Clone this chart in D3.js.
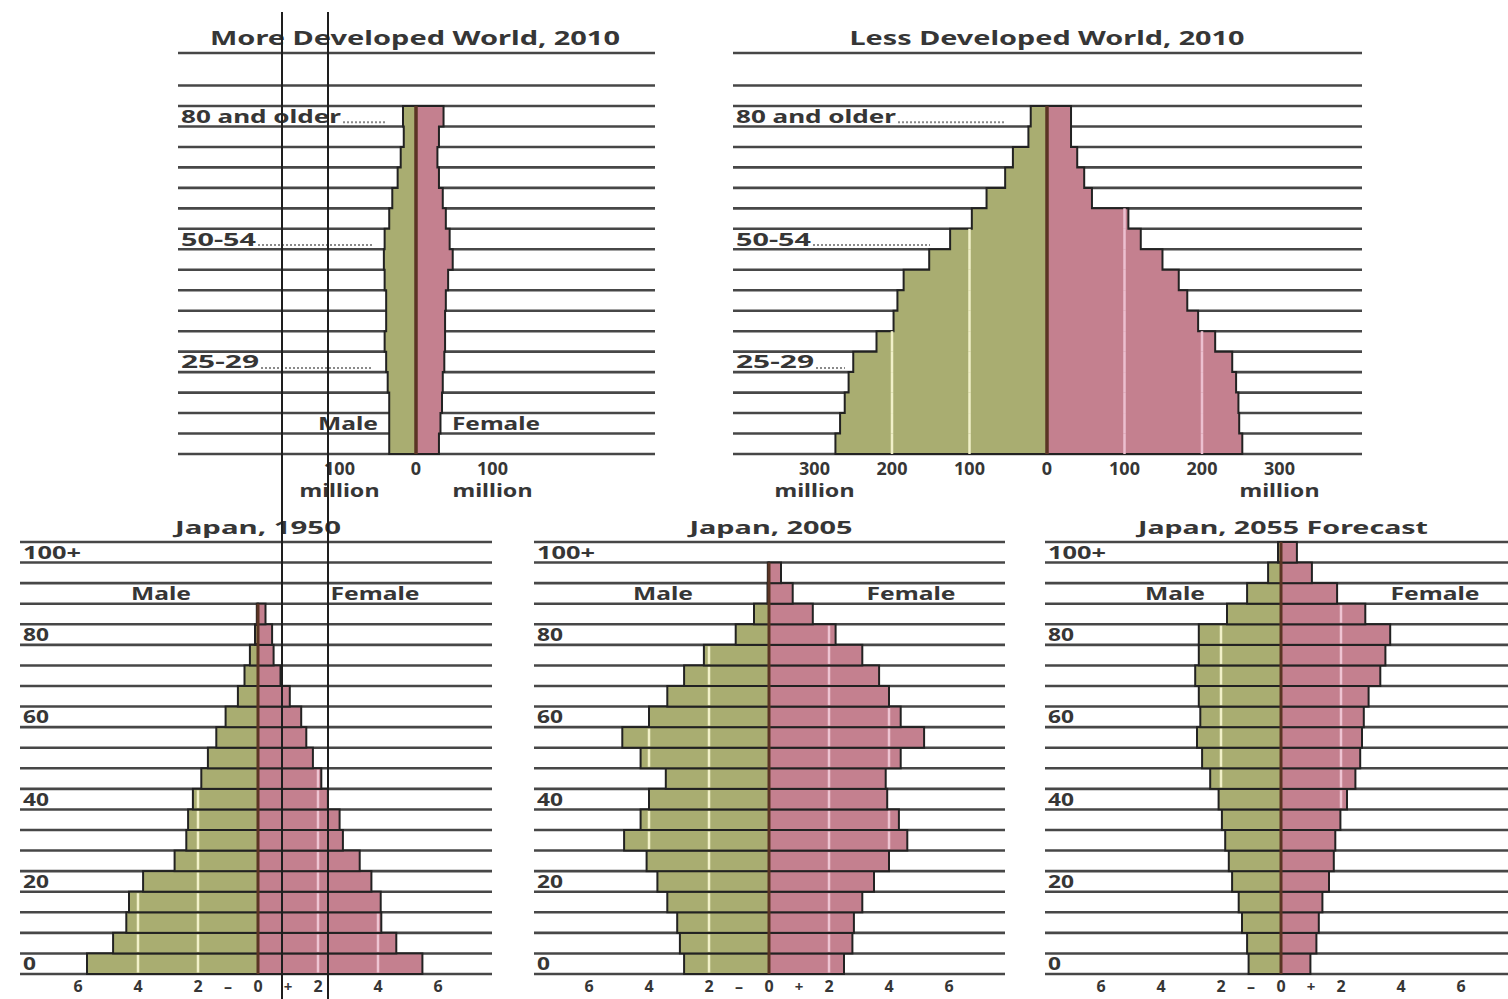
<!DOCTYPE html>
<html><head><meta charset="utf-8">
<script src="https://cdn.jsdelivr.net/npm/d3@7"></script>
<style>body{margin:0;background:#fff}svg{display:block}</style>
</head><body>
<svg id="c" width="1508" height="999"></svg>
<script>
// ---------------- DATA ----------------
const topAges = ["80+","75-79","70-74","65-69","60-64","55-59","50-54","45-49","40-44","35-39","30-34","25-29","20-24","15-19","10-14","5-9","0-4"];
// millions, ordered top (80+) to bottom (0-4)
const moreDevMale   = [17,16,20,24,31,35,41,42,41,39,39,41,39,37,35,35,35];
const moreDevFemale = [36,30,28,30,35,39,44,48,42,39,38,38,37,35,34,32,30];
const lessDevMale   = [21,24,44,54,78,97,125,152,185,193,198,220,250,256,261,267,273];
const lessDevFemale = [31,31,39,48,58,105,121,149,170,181,195,217,239,244,247,248,252];
const moreDevTicks = [-100,0,100];
const lessDevTicks = [-300,-200,-100,0,100,200,300];
const topAgeLabels = ["80 and older","50-54","25-29"];
const topAgeLabelRows = [0,6,12];

const japanAges = ["0-4","5-9","10-14","15-19","20-24","25-29","30-34","35-39","40-44","45-49","50-54","55-59","60-64","65-69","70-74","75-79","80-84","85-89","90-94","95-99","100+"];
// millions, ordered 0-4 up to 100+
const japan1950Male   = [5.70,4.83,4.39,4.30,3.83,2.78,2.39,2.33,2.17,1.89,1.67,1.39,1.08,0.67,0.45,0.27,0.10,0.04,0,0,0];
const japan1950Female = [5.48,4.61,4.11,4.09,3.78,3.39,2.83,2.72,2.33,2.11,1.83,1.61,1.44,1.06,0.75,0.52,0.47,0.25,0,0,0];
const japan2005Male   = [2.83,2.97,3.06,3.39,3.72,4.08,4.83,4.28,4.00,3.44,4.28,4.89,4.00,3.39,2.83,2.17,1.11,0.50,0.05,0.04,0];
const japan2005Female = [2.50,2.78,2.83,3.11,3.50,4.00,4.61,4.33,3.94,3.89,4.39,5.17,4.39,4.00,3.67,3.11,2.22,1.46,0.79,0.40,0];
const japan2055Male   = [1.08,1.13,1.30,1.41,1.63,1.74,1.86,1.97,2.08,2.36,2.63,2.80,2.69,2.74,2.86,2.74,2.74,1.80,1.13,0.43,0.10];
const japan2055Female = [0.98,1.18,1.26,1.38,1.60,1.76,1.81,1.98,2.20,2.48,2.64,2.70,2.76,2.92,3.31,3.48,3.64,2.81,1.87,1.03,0.53];
const japanTicks = [-6,-4,-2,0,2,4,6];
const japanAgeLabels = ["0","20","40","60","80","100+"];
const japanAgeLabelAges = ["0-4","20-24","40-44","60-64","80-84","100+"];

// ---------------- STYLE ----------------
const GREEN = "#a9ad71", PINK = "#c4808f", CENTER = "#5a3424";
const GRID = "#474747", OUT = "#222", TXT = "#363636";
const FONT = "'Noto Sans', 'DejaVu Sans', sans-serif";

const svg = d3.select("#c");

function txt(g, s, x, y, opts = {}) {
  const t = g.append("text").text(s)
    .attr("x", x).attr("y", y)
    .attr("font-family", FONT).attr("font-weight", 700)
    .attr("font-size", opts.size || 18)
    .attr("fill", opts.fill || TXT)
    .attr("dominant-baseline", "central")
    .attr("text-anchor", opts.anchor || "middle");
  if (opts.len) t.attr("textLength", opts.len).attr("lengthAdjust", "spacingAndGlyphs");
  return t;
}

// ---------------- TOP PANELS ----------------
function topPanel(cfg) {
  const g = svg.append("g");
  const x = d3.scaleLinear().domain(cfg.domain).range(cfg.range);
  const y = d3.scaleBand().domain(topAges).range([106, 454]);
  const bottom = y.range()[1];
  const bounds = topAges.map(a => y(a)).concat([bottom]);
  bounds.unshift(y(topAges[0]) - y.step());
  bounds.unshift(53);
  g.selectAll("line.grid").data(bounds).join("line")
    .attr("x1", cfg.gx0).attr("x2", cfg.gx1)
    .attr("y1", d => d).attr("y2", d => d)
    .attr("stroke", GRID).attr("stroke-width", 2.6);

  function stepPts(vals, sign) {
    const pts = [[x(0), y(topAges[0])]];
    topAges.forEach((a, i) => {
      const xv = x(sign * vals[i]);
      pts.push([xv, y(a)], [xv, y(a) + y.bandwidth()]);
    });
    pts.push([x(0), bottom]);
    return pts;
  }
  const line = d3.line();
  g.append("path").attr("d", line(stepPts(cfg.male, -1)))
    .attr("fill", GREEN).attr("stroke", OUT).attr("stroke-width", 2);
  g.append("path").attr("d", line(stepPts(cfg.female, 1)))
    .attr("fill", PINK).attr("stroke", OUT).attr("stroke-width", 2);

  // light vertical lines inside bars
  cfg.ticks.filter(t => t !== 0).forEach(t => {
    topAges.forEach((a, i) => {
      const v = t < 0 ? cfg.male[i] : cfg.female[i];
      if (v > Math.abs(t) + 2) {
        g.append("line").attr("x1", x(t)).attr("x2", x(t))
          .attr("y1", y(a)).attr("y2", y(a) + y.bandwidth())
          .attr("stroke", t < 0 ? "#f1f0c8" : "#ecc0d0").attr("stroke-width", 2.5);
      }
    });
  });
  g.append("line").attr("x1", x(0)).attr("x2", x(0)).attr("y1", y(topAges[0])).attr("y2", bottom)
    .attr("stroke", CENTER).attr("stroke-width", 3.5);

  // title
  txt(g, cfg.title, cfg.titleX, 38, { size: 19, len: cfg.titleLen });

  // age labels + dotted leaders
  topAgeLabels.forEach((s, k) => {
    const a = topAges[topAgeLabelRows[k]];
    const cy = y(a) + y.bandwidth() / 2;
    const len = [160, 75, 78][k];
    txt(g, s, cfg.gx0 + 3, cy, { anchor: "start", len: len, size: 17 });
    g.append("line").attr("x1", cfg.gx0 + 3 + len + 2).attr("x2", cfg.leaderEnd[k])
      .attr("y1", cy + 6).attr("y2", cy + 6)
      .attr("stroke", "#8a8a8a").attr("stroke-width", 2).attr("stroke-dasharray", "2,2");
  });

  // axis ticks
  cfg.ticks.forEach(t => {
    txt(g, String(Math.abs(t)), x(t), 468, { size: 18 });
  });
  cfg.millionTicks.forEach(t => {
    txt(g, "million", x(t), 490, { size: 17, len: 80 });
  });
  if (cfg.sexLabels) {
    const ly = y(topAges[15]) + y.bandwidth() / 2;
    txt(g, "Male", x(0) - 38, ly, { anchor: "end", len: 60 });
    txt(g, "Female", x(0) + 36, ly, { anchor: "start", len: 88 });
  }
}

topPanel({
  title: "More Developed World, 2010", titleX: 415, titleLen: 410,
  domain: [-100, 100], range: [416 - 76.5, 416 + 76.5],
  gx0: 178, gx1: 655,
  male: moreDevMale, female: moreDevFemale,
  ticks: moreDevTicks, millionTicks: [-100, 100],
  leaderEnd: [385, 372, 372], sexLabels: true
});
topPanel({
  title: "Less Developed World, 2010", titleX: 1047, titleLen: 395,
  domain: [-300, 300], range: [1047 - 232.5, 1047 + 232.5],
  gx0: 733, gx1: 1362,
  male: lessDevMale, female: lessDevFemale,
  ticks: lessDevTicks, millionTicks: [-300, 300],
  leaderEnd: [1005, 930, 845], sexLabels: false
});

// ---------------- JAPAN PANELS ----------------
function japanPanel(cfg) {
  const g = svg.append("g");
  const x = d3.scaleLinear().domain([-6, 6]).range([cfg.c - 180, cfg.c + 180]);
  const y = d3.scaleBand().domain(japanAges.slice().reverse()).range([542, 974]);
  const bottom = y.range()[1];
  const bounds = japanAges.map(a => y(a)).concat([bottom]);
  g.selectAll("line.grid").data(bounds).join("line")
    .attr("x1", cfg.gx0).attr("x2", cfg.gx1)
    .attr("y1", d => d).attr("y2", d => d)
    .attr("stroke", GRID).attr("stroke-width", 2.6);

  const rows = japanAges.map((a, i) => ({ a, m: cfg.male[i], f: cfg.female[i] }));
  g.selectAll("rect.m").data(rows.filter(d => d.m > 0)).join("rect")
    .attr("x", d => x(-d.m)).attr("width", d => x(0) - x(-d.m))
    .attr("y", d => y(d.a)).attr("height", y.bandwidth())
    .attr("fill", GREEN).attr("stroke", OUT).attr("stroke-width", 2);
  g.selectAll("rect.f").data(rows.filter(d => d.f > 0)).join("rect")
    .attr("x", x(0)).attr("width", d => x(d.f) - x(0))
    .attr("y", d => y(d.a)).attr("height", y.bandwidth())
    .attr("fill", PINK).attr("stroke", OUT).attr("stroke-width", 2);

  [2, 4, 6].forEach(t => {
    rows.forEach(d => {
      if (d.m > t + 0.1) g.append("line").attr("x1", x(-t)).attr("x2", x(-t))
        .attr("y1", y(d.a) + 1.5).attr("y2", y(d.a) + y.bandwidth() - 1.5)
        .attr("stroke", "#f1f0c8").attr("stroke-width", 2.5);
      if (d.f > t + 0.1) g.append("line").attr("x1", x(t)).attr("x2", x(t))
        .attr("y1", y(d.a) + 1.5).attr("y2", y(d.a) + y.bandwidth() - 1.5)
        .attr("stroke", "#eec4d2").attr("stroke-width", 2.5);
    });
  });
  const topRow = rows.filter(d => d.m > 0 || d.f > 0).pop();
  g.append("line").attr("x1", x(0)).attr("x2", x(0))
    .attr("y1", y(topRow.a)).attr("y2", bottom)
    .attr("stroke", CENTER).attr("stroke-width", 3);

  txt(g, cfg.title, cfg.titleX, 527, { size: 18, len: cfg.titleLen });

  japanAgeLabels.forEach((s, k) => {
    const a = japanAgeLabelAges[k];
    txt(g, s, cfg.gx0 + 3, y(a) + y.bandwidth() / 2, { anchor: "start", size: 17, len: s.length * 13 + (s.length > 3 ? 6 : 0) });
  });
  const sy = y("90-94") + y.bandwidth() / 2;
  txt(g, "Male", cfg.maleX, sy, { len: 60 });
  txt(g, "Female", cfg.femaleX, sy, { len: 89 });

  japanTicks.forEach(t => txt(g, String(Math.abs(t)), x(t), 986, { size: 16 }));
  txt(g, "\u2013", x(-1), 986, { size: 16 });
  txt(g, "+", x(1), 986, { size: 15 });
}

japanPanel({ title: "Japan, 1950", titleX: 258, titleLen: 166, c: 258, gx0: 20, gx1: 492,
  male: japan1950Male, female: japan1950Female, maleX: 161, femaleX: 375 });
japanPanel({ title: "Japan, 2005", titleX: 771, titleLen: 163, c: 769, gx0: 534, gx1: 1005,
  male: japan2005Male, female: japan2005Female, maleX: 663, femaleX: 911 });
japanPanel({ title: "Japan, 2055 Forecast", titleX: 1283, titleLen: 290, c: 1281, gx0: 1045, gx1: 1508,
  male: japan2055Male, female: japan2055Female, maleX: 1175, femaleX: 1435 });

// two vertical guide lines crossing the picture
svg.selectAll("line.guide").data([282, 328]).join("line")
  .attr("x1", d => d).attr("x2", d => d).attr("y1", 12).attr("y2", 999)
  .attr("stroke", "#1e1e1e").attr("stroke-width", 2);
</script>
</body></html>
